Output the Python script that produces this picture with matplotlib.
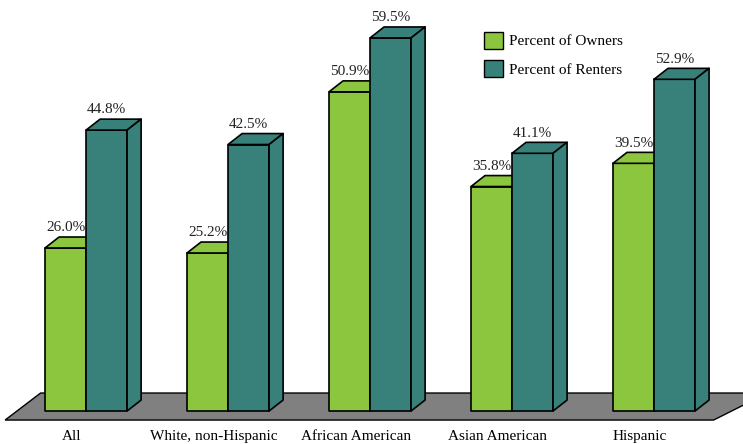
import matplotlib.pyplot as plt
from matplotlib.patches import Polygon, Patch

plt.rcParams['font.family'] = ['Liberation Serif', 'DejaVu Serif']

groups = ['All', 'White, non-Hispanic', 'African American', 'Asian American', 'Hispanic']
owners = [26.0, 25.2, 50.9, 35.8, 39.5]
renters = [44.8, 42.5, 59.5, 41.1, 52.9]
series_names = ['Percent of Owners', 'Percent of Renters']

green = '#8cc63f'
teal = '#38817a'
floor_gray = '#808080'

bar_w = 0.289     # one bar, in category units
dx, dy = 0.099, 1.75   # depth offset of the 3D box

fig = plt.figure(figsize=(7.43, 4.44), dpi=100)
ax = fig.add_axes([0, 0, 1, 1])
ax.set_xlim(-0.606, 4.627)
ax.set_ylim(-5.26, 65.55)
ax.axis('off')

# gray floor under the bars
floor = Polygon([(-0.570, -1.44), (-0.320, 2.87), (4.80, 2.87), (4.42, -1.44)],
                closed=True, facecolor=floor_gray, edgecolor='black', lw=1.0, zorder=1)
ax.add_patch(floor)


def box(x0, h, color):
    faces = [
        [(x0, 0), (x0 + bar_w, 0), (x0 + bar_w, h), (x0, h)],
        [(x0, h), (x0 + bar_w, h), (x0 + bar_w + dx, h + dy), (x0 + dx, h + dy)],
        [(x0 + bar_w, 0), (x0 + bar_w + dx, dy), (x0 + bar_w + dx, h + dy), (x0 + bar_w, h)],
    ]
    for f in faces:
        ax.add_patch(Polygon(f, closed=True, facecolor=color, edgecolor='black',
                             lw=1.2, joinstyle='round', zorder=2))
    ax.text(x0 + bar_w / 2, h + dy + 0.45, f'{h:.1f}%', ha='center', va='bottom',
            fontsize=11, color='#222222', zorder=3)


for i, (o, r) in enumerate(zip(owners, renters)):
    box(i - bar_w, o, green)
    box(i, r, teal)
    ax.text(i - 0.1, -4.1, groups[i], ha='center', va='center', fontsize=11, color='black')

handles = [Patch(facecolor=green, edgecolor='black', lw=1.0),
           Patch(facecolor=teal, edgecolor='black', lw=1.0)]
ax.legend(handles, series_names, loc='upper left', bbox_to_anchor=(484 / 743, 1 - 32 / 444),
          frameon=False, fontsize=11, handlelength=1.25, handleheight=1.3,
          handletextpad=0.4, labelspacing=0.75, borderpad=0, borderaxespad=0)

fig.set_facecolor('white')
fig.savefig('out.png', dpi=100)
